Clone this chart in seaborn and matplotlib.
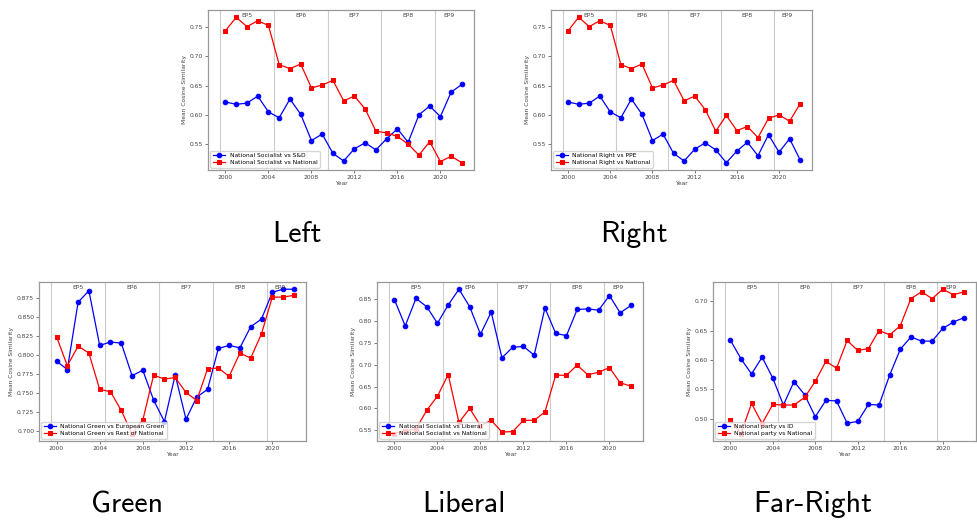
import numpy as np
import pandas as pd
import seaborn as sns
import matplotlib.pyplot as plt

# === Data
years = list(range(2000, 2023))

left_sd = [0.622, 0.618, 0.620, 0.632, 0.605, 0.595, 0.627, 0.601, 0.556, 0.567, 0.534, 0.521,
           0.542, 0.552, 0.540, 0.559, 0.576, 0.553, 0.600, 0.615, 0.597, 0.639, 0.652]
left_nat = [0.744, 0.767, 0.751, 0.761, 0.753, 0.686, 0.679, 0.687, 0.646, 0.651, 0.659, 0.624,
            0.632, 0.610, 0.572, 0.569, 0.563, 0.550, 0.531, 0.554, 0.520, 0.529, 0.518]

right_ppe = [0.622, 0.618, 0.620, 0.632, 0.605, 0.595, 0.627, 0.601, 0.556, 0.567, 0.534, 0.521,
             0.541, 0.552, 0.540, 0.518, 0.538, 0.553, 0.530, 0.566, 0.536, 0.559, 0.523]
right_nat = [0.744, 0.767, 0.751, 0.761, 0.753, 0.686, 0.679, 0.687, 0.646, 0.651, 0.659, 0.624,
             0.632, 0.609, 0.572, 0.599, 0.573, 0.580, 0.561, 0.594, 0.600, 0.589, 0.619]

green_eu = [0.792, 0.781, 0.869, 0.884, 0.8125, 0.817, 0.8155, 0.773, 0.780, 0.741, 0.713, 0.774,
            0.716, 0.745, 0.755, 0.8086, 0.8125, 0.8094, 0.837, 0.847, 0.882, 0.886, 0.886]
green_nat = [0.824, 0.786, 0.8116, 0.8025, 0.755, 0.752, 0.7275, 0.697, 0.715, 0.7737, 0.7685, 0.7706,
             0.751, 0.7405, 0.782, 0.783, 0.772, 0.8025, 0.796, 0.8277, 0.8757, 0.8757, 0.878]

lib_lib = [0.849, 0.789, 0.852, 0.833, 0.795, 0.837, 0.873, 0.833, 0.770, 0.8206, 0.716, 0.740,
           0.742, 0.722, 0.830, 0.772, 0.7666, 0.8266, 0.828, 0.825, 0.8586, 0.819, 0.8358]
lib_nat = [0.542, 0.549, 0.553, 0.5956, 0.628, 0.6777, 0.568, 0.600, 0.5606, 0.5728, 0.546, 0.547,
           0.5728, 0.5728, 0.592, 0.676, 0.676, 0.699, 0.677, 0.683, 0.6936, 0.6587, 0.651]

far_id = [0.634, 0.602, 0.576, 0.6045, 0.569, 0.523, 0.563, 0.5405, 0.503, 0.531, 0.530, 0.492,
          0.495, 0.524, 0.523, 0.574, 0.618, 0.639, 0.632, 0.632, 0.6536, 0.6645, 0.672]
far_nat = [0.497, 0.474, 0.5257, 0.4914, 0.524, 0.523, 0.523, 0.536, 0.5634, 0.5976, 0.5857, 0.633,
           0.616, 0.6193, 0.650, 0.6427, 0.658, 0.7044, 0.716, 0.7044, 0.7204, 0.711, 0.716]

ep_terms = ["EP5", "EP6", "EP7", "EP8", "EP9"]
ep_starts = [1999.5, 2004.5, 2009.5, 2014.5, 2019.5]
ep_ends = [2004.5, 2009.5, 2014.5, 2019.5, 2022]

panels = [
    ("Left", left_sd, left_nat, "National Socialist vs S&D", "National Socialist vs National"),
    ("Right", right_ppe, right_nat, "National Right vs PPE", "National Right vs National"),
    ("Green", green_eu, green_nat, "National Green vs European Green", "National Green vs Rest of National"),
    ("Liberal", lib_lib, lib_nat, "National Socialist vs Liberal", "National Socialist vs National"),
    ("Far-Right", far_id, far_nat, "National party vs ID", "National party vs National"),
]

# axes boxes in pixels: left, top, right, bottom
W, H = 977, 523
boxes = [(208, 10, 474, 170), (551, 10, 812, 170),
         (39, 282, 306, 441), (377, 282, 643, 441), (713, 282, 976, 441)]
captions_xy = [(297, 235), (634, 235), (127, 505), (464, 505), (813, 505)]

fig = plt.figure(figsize=(W / 100, H / 100), dpi=100)
small = 4.3

for (name, blue_vals, red_vals, blue_lab, red_lab), (l, t, r, b), (cx, cy) in zip(panels, boxes, captions_xy):
    ax = fig.add_axes([l / W, 1 - b / H, (r - l) / W, (b - t) / H])
    df = pd.DataFrame({"Year": years, "blue": blue_vals, "red": red_vals})

    # === European Parliament terms
    for s, e, lab in zip(ep_starts, ep_ends, ep_terms):
        ax.axvline(s, color="#cccccc", linewidth=0.8, zorder=0)
        ax.text((s + e) / 2, 0.963, lab, transform=ax.get_xaxis_transform(),
                ha="center", va="center", fontsize=small, color="#444444")

    sns.lineplot(data=df, x="Year", y="blue", ax=ax, color="blue", marker="o",
                 markersize=3.3, markeredgecolor="blue", linewidth=0.9, label=blue_lab)
    sns.lineplot(data=df, x="Year", y="red", ax=ax, color="red", marker="s",
                 markersize=3.3, markeredgecolor="red", linewidth=0.9, label=red_lab)

    ax.set_xticks([2000, 2004, 2008, 2012, 2016, 2020])
    ax.set_xlabel("Year", fontsize=small, color="#444444", labelpad=1)
    ax.set_ylabel("Mean Cosine Similarity", fontsize=small, color="#444444", labelpad=2)
    ax.tick_params(labelsize=small, colors="#444444", length=2, width=0.5, pad=1.5)
    for sp in ax.spines.values():
        sp.set_color("#999999")
        sp.set_linewidth(0.9)
    ax.legend(loc="lower left", fontsize=small, frameon=True, borderpad=0.4,
              handlelength=2.0, labelspacing=0.3, borderaxespad=0.4)

    fig.text(cx / W, 1 - cy / H, name, ha="center", va="center",
             fontsize=21.5, family="cmss10")

plt.savefig("out.png", dpi=100)
